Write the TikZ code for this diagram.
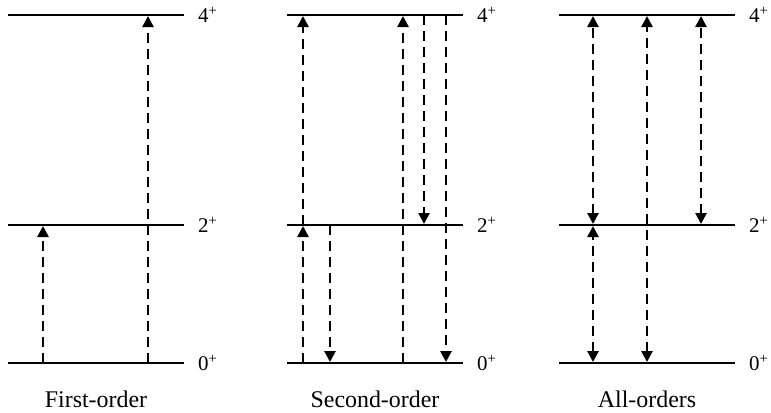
\documentclass[tikz,border=0pt]{standalone}
\usepackage{fontspec}
\setmainfont{Liberation Serif}
\usetikzlibrary{arrows.meta}

\begin{document}
\begin{tikzpicture}[
  x=1bp, y=-1bp,
  lvl/.style={line width=2.6bp},
  lab/.style={anchor=base west, inner sep=0pt, font=\fontsize{21}{24}\selectfont},
  title/.style={anchor=base, inner sep=0pt, font=\fontsize{24}{28}\selectfont},
  tr/.style={line width=2.6bp, dash pattern=on 10bp off 6bp, shorten >=1bp},
  up/.style={tr, -{Triangle[length=11bp,width=11bp]}},
  both/.style={tr, shorten <=1bp, {Triangle[length=11bp,width=11bp]}-{Triangle[length=11bp,width=11bp]}}
]
\useasboundingbox (0,0) rectangle (771,412);

% levels of the three panels
\foreach \p/\x/\c/\t in {a/8/96/First-order, b/287/375/Second-order, c/559/647/All-orders} {
  \foreach \j/\y in {4/15, 2/225, 0/363} {
    \coordinate (\p\j) at (\x,\y);
    \draw[lvl] (\p\j) -- ++(176,0) coordinate (\p\j e);
    \node[lab] (\p\j t) at ([xshift=14bp, yshift=-7.5bp]\p\j e) {\j\textsuperscript{+}};
  }
  \node[title] (\p cap) at (\c,407) {\t};
}

% columns of the transitions
\coordinate (a1) at (43,0);
\coordinate (a3) at (148,0);
\coordinate (b1) at (303,0);
\coordinate (b3) at (330,0);
\coordinate (b5) at (403,0);
\coordinate (b6) at (424,0);
\coordinate (b7) at (446,0);
\coordinate (c1) at (593,0);
\coordinate (c3) at (647,0);
\coordinate (c5) at (701,0);

% first-order
\draw[up] (a1 |- a0) -- (a1 |- a2);
\draw[up] (a3 |- a0) -- (a3 |- a4);

% second-order
\draw[up] (b1 |- b0) -- (b1 |- b2);
\draw[up] (b1 |- b2) -- (b1 |- b4);
\draw[up] (b3 |- b2) -- (b3 |- b0);
\draw[up] (b5 |- b0) -- (b5 |- b4);
\draw[up] (b6 |- b4) -- (b6 |- b2);
\draw[up] (b7 |- b4) -- (b7 |- b0);

% all-orders
\draw[both] (c1 |- c0) -- (c1 |- c2);
\draw[both] (c1 |- c2) -- (c1 |- c4);
\draw[both] (c3 |- c0) -- (c3 |- c4);
\draw[both] (c5 |- c2) -- (c5 |- c4);
\end{tikzpicture}
\end{document}
